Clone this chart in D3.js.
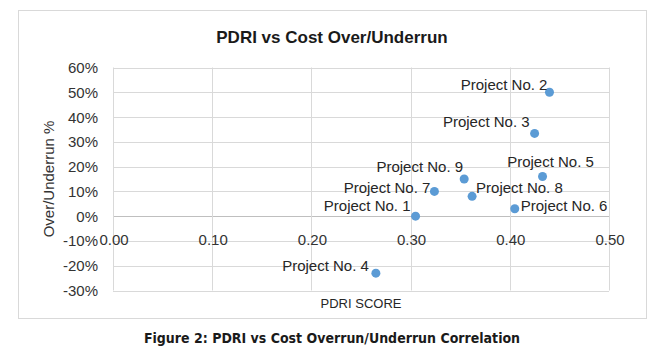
<!DOCTYPE html>
<html>
<head>
<meta charset="utf-8">
<script src="https://cdn.jsdelivr.net/npm/d3@7"></script>
<style>
  body { margin: 0; background: #fff; }
  svg text { font-family: "Liberation Sans", Arial, sans-serif; }
</style>
</head>
<body>
<script>
// data
var projects = ["Project No. 1", "Project No. 2", "Project No. 3", "Project No. 4", "Project No. 5",
                "Project No. 6", "Project No. 7", "Project No. 8", "Project No. 9"];
var pdriScores = [0.305, 0.440, 0.425, 0.265, 0.433, 0.405, 0.324, 0.362, 0.354];
var overUnder = [0.00, 0.50, 0.334, -0.23, 0.16, 0.03, 0.10, 0.08, 0.15];
var xTicks = [0, 0.1, 0.2, 0.3, 0.4, 0.5];
var yTicks = [-0.3, -0.2, -0.1, 0, 0.1, 0.2, 0.3, 0.4, 0.5, 0.6];

// where each data label sits relative to its point (anchor, dx, dy)
var labelPlace = [
    ["end", -5, -5], ["end", -2, -2], ["end", -5, -6], ["end", -7, -2], ["middle", 8, -10],
    ["start", 6, 2], ["end", -4, 2], ["start", 4, -3], ["end", -1, -7]
];

var w = 662, h = 350;
var svg = d3.select("body").append("svg")
    .attr("width", w)
    .attr("height", h);

// chart area border
svg.append("rect")
    .attr("x", 18.5).attr("y", 10.5)
    .attr("width", 628).attr("height", 308)
    .attr("fill", "#fff")
    .attr("stroke", "#d9d9d9");

var x = d3.scaleLinear().domain([0, 0.5]).range([113, 609]);
var y = d3.scaleLinear().domain([-0.3, 0.6]).range([290.5, 67.5]);

// gridlines
svg.append("g").selectAll("line.hg")
    .data(yTicks).enter().append("line")
    .attr("x1", x(0)).attr("x2", x(0.5))
    .attr("y1", function(d){ return Math.round(y(d)) + 0.5; })
    .attr("y2", function(d){ return Math.round(y(d)) + 0.5; })
    .attr("stroke", function(d){ return d === 0 ? "#bfbfbf" : "#d9d9d9"; });

svg.append("g").selectAll("line.vg")
    .data(xTicks).enter().append("line")
    .attr("y1", y(0.6)).attr("y2", y(-0.3))
    .attr("x1", function(d){ return Math.round(x(d)) + 0.5; })
    .attr("x2", function(d){ return Math.round(x(d)) + 0.5; })
    .attr("stroke", "#d9d9d9");

// y axis tick labels (plain hyphen for negatives, like Excel)
var pct = d3.formatLocale({ decimal: ".", thousands: ",", grouping: [3], currency: ["", ""], minus: "-" }).format(".0%");
svg.append("g").selectAll("text")
    .data(yTicks).enter().append("text")
    .attr("x", 98)
    .attr("y", function(d){ return y(d) + 5.5; })
    .attr("text-anchor", "end")
    .attr("font-size", 15)
    .attr("fill", "#333")
    .text(function(d){ return pct(d); });

// x axis tick labels, hung under the 0% line
var fx = d3.format(".2f");
svg.append("g").selectAll("text")
    .data(xTicks).enter().append("text")
    .attr("x", function(d){ return x(d) + 1; })
    .attr("y", y(0) + 28.5)
    .attr("text-anchor", "middle")
    .attr("font-size", 15)
    .attr("fill", "#333")
    .text(function(d){ return fx(d); });

// points
var pts = projects.map(function(p, i){
    return { name: p, score: pdriScores[i], cost: overUnder[i], place: labelPlace[i] };
});

svg.append("g").selectAll("circle")
    .data(pts).enter().append("circle")
    .attr("cx", function(d){ return x(d.score); })
    .attr("cy", function(d){ return y(d.cost); })
    .attr("r", 4.5)
    .attr("fill", "#5b9bd5");

svg.append("g").selectAll("text")
    .data(pts).enter().append("text")
    .attr("x", function(d){ return x(d.score) + d.place[1]; })
    .attr("y", function(d){ return y(d.cost) + d.place[2]; })
    .attr("text-anchor", function(d){ return d.place[0]; })
    .attr("font-size", 15)
    .attr("fill", "#262626")
    .text(function(d){ return d.name; });

// titles
svg.append("text")
    .attr("x", 332).attr("y", 43)
    .attr("text-anchor", "middle")
    .attr("font-size", 17)
    .attr("font-weight", "bold")
    .attr("fill", "#1a1a1a")
    .text("PDRI vs Cost Over/Underrun");

svg.append("text")
    .attr("transform", "translate(54,179) rotate(-90)")
    .attr("text-anchor", "middle")
    .attr("font-size", 15)
    .attr("fill", "#333")
    .text("Over/Underrun %");

svg.append("text")
    .attr("x", 361).attr("y", 308)
    .attr("text-anchor", "middle")
    .attr("font-size", 13)
    .attr("fill", "#262626")
    .text("PDRI SCORE");

// figure caption below the chart
svg.append("text")
    .attr("x", 332).attr("y", 343)
    .attr("text-anchor", "middle")
    .attr("font-size", 14)
    .attr("font-weight", "bold")
    .style("font-family", "'DejaVu Sans Condensed', 'DejaVu Sans', sans-serif")
    .attr("fill", "#1a1a1a")
    .text("Figure 2: PDRI vs Cost Overrun/Underrun Correlation");
</script>
</body>
</html>
